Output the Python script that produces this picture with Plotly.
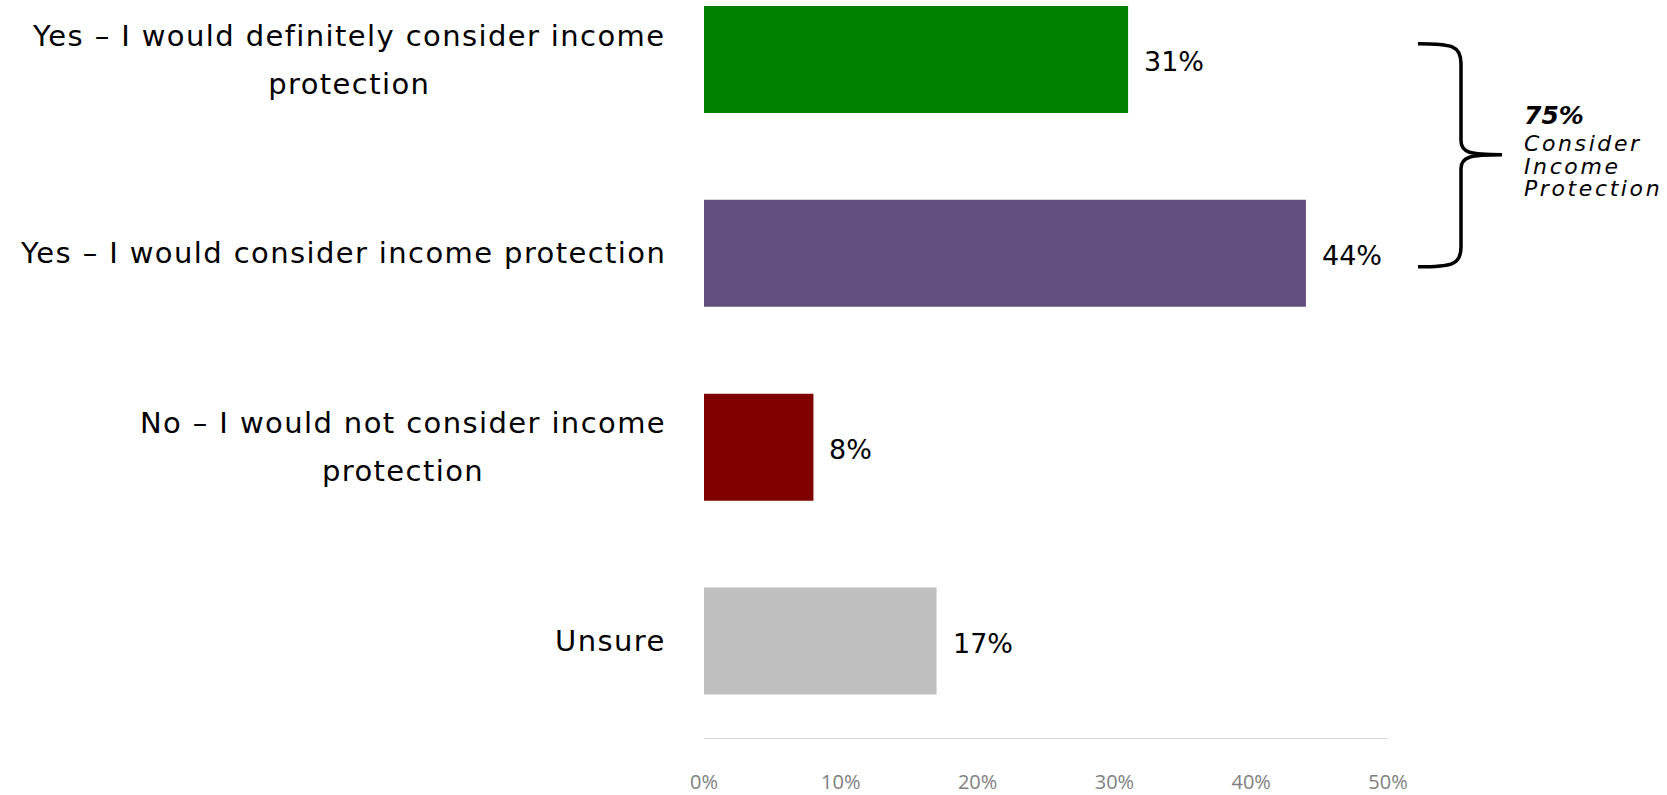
import plotly.graph_objects as go

# Survey responses, listed top to bottom
label_lines = [
    ["Yes \u2013 I would definitely consider income", "protection"],
    ["Yes \u2013 I would consider income protection"],
    ["No \u2013 I would not consider income", "protection"],
    ["Unsure"],
]
values = [31, 44, 8, 17]
colors = ["#008000", "#634f7d", "#800000", "#bfbfbf"]
tick_vals = [0, 10, 20, 30, 40, 50]
tick_text = ["0%", "10%", "20%", "30%", "40%", "50%"]

FONT = "DejaVu Sans"
TICK_FONT = "Open Sans"
LABEL_PX = 29        # glyph size of the response labels
LINE_GAP = 48        # distance between wrapped label lines
n = len(values)
ypos = [n - 1 - i for i in range(n)]  # first response at the top

fig = go.Figure()
fig.add_trace(go.Bar(
    x=values, y=ypos, orientation="h",
    marker=dict(color=colors, line=dict(width=0)),
    width=0.552, hoverinfo="skip", showlegend=False,
))


def spaced(lines, glyph_px, tracking=0):
    # lines are spaced by the annotation font size; glyphs use glyph_px
    style = f"font-size:{glyph_px}px;letter-spacing:{tracking}px"
    return "<br>".join(f"<span style='{style}'>{s}</span>" for s in lines)


annotations = []
# category labels: block right-aligned left of the bars, lines centred
for lines, y in zip(label_lines, ypos):
    annotations.append(dict(
        x=0, xref="x", y=y, yref="y", text=spaced(lines, LABEL_PX, 1.4),
        showarrow=False, align="center",
        xanchor="right", yanchor="middle", xshift=-36,
        font=dict(family=FONT, size=LINE_GAP / 1.3, color="#000000"),
    ))
# value labels at the bar ends
for v, y in zip(values, ypos):
    annotations.append(dict(
        x=v, xref="x", y=y, yref="y", text=f"{v}%", showarrow=False,
        xanchor="left", yanchor="middle", xshift=14, yshift=-2,
        font=dict(family=FONT, size=27, color="#000000"),
    ))

# plot geometry in pixels, used for the brace placed in the right margin
W, H = 1667, 795
L, R, T, B = 704, 279, 0, 51
pw, ph = W - L - R, H - T - B


def px(x):
    return (x - L) / pw


def py(y):
    return (H - B - y) / ph


total = values[0] + values[1]
bx, tip = 1461, 1502
brace = (
    f"M {px(1418)},{py(44)} "
    f"C {px(1452)},{py(44)} {px(bx)},{py(46)} {px(bx)},{py(64)} "
    f"L {px(bx)},{py(142)} "
    f"C {px(bx)},{py(154)} {px(1470)},{py(156)} {px(tip)},{py(156)} "
    f"C {px(1470)},{py(156)} {px(bx)},{py(158)} {px(bx)},{py(170)} "
    f"L {px(bx)},{py(249)} "
    f"C {px(bx)},{py(267)} {px(1452)},{py(269)} {px(1418)},{py(269)}"
)
shapes = [dict(type="path", xref="paper", yref="paper", path=brace,
               line=dict(color="#000000", width=3.5))]

annotations.append(dict(
    x=px(1522), xref="paper", y=py(116), yref="paper", text=f"<b><i>{total}%</i></b>",
    showarrow=False, xanchor="left", yanchor="middle",
    font=dict(family=FONT, size=25, color="#000000"),
))
annotations.append(dict(
    x=px(1522), xref="paper", y=py(167), yref="paper",
    text="<i>" + spaced(["Consider", "Income", "Protection"], 22, 2.6) + "</i>",
    showarrow=False, xanchor="left", yanchor="middle", align="left",
    font=dict(family=FONT, size=22.5 / 1.3, color="#000000"),
))

fig.update_layout(
    width=W, height=H,
    margin=dict(l=L, r=R, t=T, b=B, pad=0),
    paper_bgcolor="#ffffff", plot_bgcolor="#ffffff",
    annotations=annotations, shapes=shapes,
    xaxis=dict(
        range=[0, 50], tickvals=tick_vals, ticktext=tick_text,
        showgrid=False, zeroline=False, showline=True,
        linecolor="#d9d9d9", linewidth=1, ticks="",
        ticklabelstandoff=26,
        tickfont=dict(family=TICK_FONT, size=20, color="#808080"),
        fixedrange=True,
    ),
    yaxis=dict(
        range=[-0.5, 3.307], showticklabels=False, showgrid=False,
        zeroline=False, showline=False, fixedrange=True,
    ),
)

fig.write_html("out.html")
